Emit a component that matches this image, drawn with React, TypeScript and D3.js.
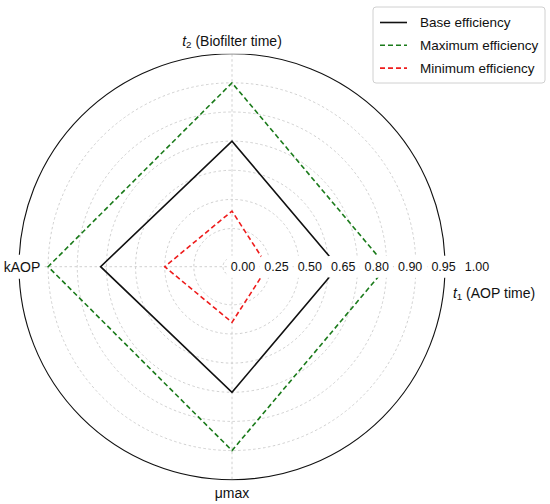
import { useEffect, useRef } from 'react'
import * as d3 from 'd3'

// axes go counter-clockwise starting at 3 o'clock
const categories = ['t1 (AOP time)', 't2 (Biofilter time)', 'kAOP', 'μmax']
const baseEfficiency = [0.70, 0.80, 0.82, 0.80]
const maxEfficiency = [0.90, 0.95, 0.95, 0.95]
const minEfficiency = [0.23, 0.40, 0.50, 0.40]
const radialTicks = [0, 0.25, 0.5, 0.65, 0.8, 0.9, 0.95, 1.0]
const tickLabels = radialTicks.map(d => d.toFixed(2))
const seriesNames = ['Base efficiency', 'Maximum efficiency', 'Minimum efficiency']

const width = 550
const height = 504
const cx = 232
const cy = 266.7
const innerR = 9
const outerR = 213
const font = '"Liberation Sans", Arial, Helvetica, sans-serif'

type Sel = d3.Selection<SVGGElement, unknown, null, undefined>

// text with a white box behind it, like matplotlib's bbox
function boxedText(parent: Sel, x: number, y: number, label: string, size: number, pad: number) {
  const grp = parent.append('g')
  const rect = grp.append('rect')
  const text = grp.append('text')
    .attr('x', x)
    .attr('y', y)
    .attr('text-anchor', 'middle')
    .attr('dominant-baseline', 'central')
    .attr('font-family', font)
    .attr('font-size', size)
    .attr('fill', '#111')

  const m = label.match(/^t(\d)(.*)$/)
  if (m) {
    text.append('tspan').attr('font-style', 'italic').text('t')
    text.append('tspan').attr('font-size', size * 0.7).attr('dy', 3.5).text(m[1])
    text.append('tspan').attr('dy', -3.5).text(m[2])
  } else {
    text.text(label)
  }

  const bb = (text.node() as SVGTextElement).getBBox()
  rect
    .attr('x', bb.x - pad)
    .attr('y', bb.y - pad)
    .attr('width', bb.width + pad * 2)
    .attr('height', bb.height + pad * 2)
    .attr('rx', 3)
    .attr('fill', 'white')
}

export default function App() {
  const svgRef = useRef<SVGSVGElement>(null)

  useEffect(() => {
    if (!svgRef.current) return
    const svg = d3.select(svgRef.current)
    svg.selectAll('*').remove()

    const g = svg.append('g').attr('transform', `translate(${cx},${cy})`) as unknown as Sel

    // tick circles are evenly spaced even though the values are not
    const step = (outerR - innerR) / (radialTicks.length - 1)
    const rScale = d3.scaleLinear()
      .domain(radialTicks)
      .range(d3.range(radialTicks.length).map(i => innerR + i * step))

    const angle = d3.scaleLinear()
      .domain([0, categories.length])
      .range([Math.PI / 2, Math.PI / 2 - 2 * Math.PI])

    // grid circles
    radialTicks.slice(0, -1).forEach(t => {
      g.append('circle')
        .attr('r', rScale(t))
        .attr('fill', 'none')
        .attr('stroke', '#c4c4c4')
        .attr('stroke-width', 0.8)
        .attr('stroke-dasharray', '2.5,2.5')
    })

    // spokes
    categories.forEach((_, i) => {
      const a = angle(i)
      g.append('line')
        .attr('x1', 0)
        .attr('y1', 0)
        .attr('x2', outerR * Math.sin(a))
        .attr('y2', -outerR * Math.cos(a))
        .attr('stroke', '#c4c4c4')
        .attr('stroke-width', 0.8)
        .attr('stroke-dasharray', '2.5,2.5')
    })

    // outer spine
    g.append('circle')
      .attr('r', rScale(1))
      .attr('fill', 'none')
      .attr('stroke', '#111')
      .attr('stroke-width', 1.1)

    const series = [
      { name: seriesNames[0], values: baseEfficiency, color: '#111111', dash: null },
      { name: seriesNames[1], values: maxEfficiency, color: '#1a7a1a', dash: '5,3' },
      { name: seriesNames[2], values: minEfficiency, color: '#ee1c1c', dash: '5,3' },
    ]

    const line = d3.lineRadial<number>()
      .angle((_, i) => angle(i))
      .radius(d => rScale(d))
      .curve(d3.curveLinearClosed)

    series.forEach(s => {
      g.append('path')
        .datum(s.values)
        .attr('d', line)
        .attr('fill', 'none')
        .attr('stroke', s.color)
        .attr('stroke-width', 1.6)
        .attr('stroke-dasharray', s.dash)
    })

    // radial tick labels along the 0 degree axis
    const labelX = d3.scalePoint<string>().domain(tickLabels).range([11, 245])
    tickLabels.forEach(t => {
      boxedText(g, labelX(t) ?? 0, 0, t, 12.5, 4)
    })

    // category labels
    categories.forEach((c, i) => {
      const a = angle(i)
      const sx = Math.sin(a)
      const cy_ = -Math.cos(a)
      let x = 0
      let y = 0
      if (Math.abs(sx) > 0.5) {
        // horizontal axes
        if (sx > 0) {
          x = outerR + 49
          y = 26
        } else {
          x = -(outerR - 3)
        }
      } else {
        y = cy_ * (outerR + 13)
      }
      boxedText(g, x, y, c, 14, 4)
    })

    // legend
    const legend = svg.append('g').attr('transform', 'translate(373, 7)')
    legend.append('rect')
      .attr('width', 172)
      .attr('height', 76)
      .attr('rx', 3)
      .attr('fill', 'white')
      .attr('fill-opacity', 0.9)
      .attr('stroke', '#d0d0d0')
      .attr('stroke-width', 1)

    series.forEach((s, i) => {
      const ly = 15.5 + i * 22.8
      legend.append('line')
        .attr('x1', 7)
        .attr('x2', 34)
        .attr('y1', ly)
        .attr('y2', ly)
        .attr('stroke', s.color)
        .attr('stroke-width', 1.6)
        .attr('stroke-dasharray', s.dash)
      legend.append('text')
        .attr('x', 47)
        .attr('y', ly)
        .attr('dominant-baseline', 'central')
        .attr('font-family', font)
        .attr('font-size', 13.5)
        .attr('fill', '#111')
        .text(s.name)
    })
  }, [])

  return (
    <svg
      ref={svgRef}
      width={width}
      height={height}
      style={{ position: 'absolute', left: 0, top: 0, background: 'white' }}
    />
  )
}
